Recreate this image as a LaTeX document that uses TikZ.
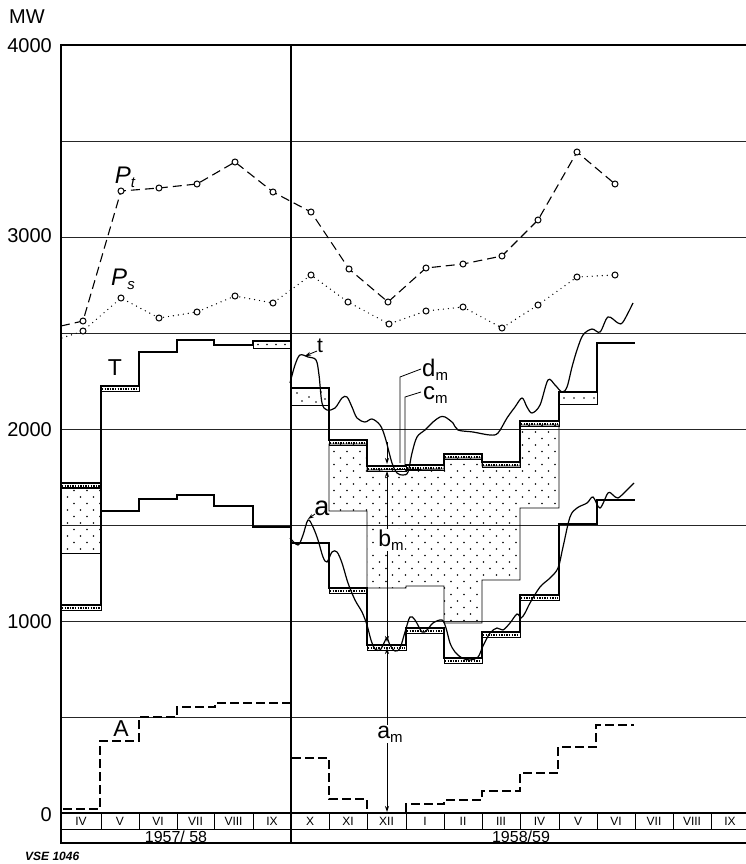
\documentclass[tikz,border=0pt]{standalone}
\usepackage{fontspec}
\setmainfont{Liberation Sans}
\usetikzlibrary{patterns,arrows.meta}
\pgfdeclarepatternformonly{sparsedots}{\pgfpoint{-1pt}{-1pt}}{\pgfpoint{14pt}{14pt}}{\pgfpoint{13pt}{13pt}}{%
  \pgfpathcircle{\pgfpoint{2.5pt}{3pt}}{0.9pt}%
  \pgfpathcircle{\pgfpoint{9pt}{9.5pt}}{0.9pt}%
  \pgfusepath{fill}}
\newcommand\lowsub[1]{\raisebox{-0.18em}{\fontsize{15}{15}\selectfont #1}}
\newcommand\fs[1]{\fontsize{#1}{#1}\selectfont}
\newcommand\stripb[3]{%
  \draw[thinbox] (#1,#3) rectangle (#2,#3+5);
  \draw[line width=2pt, dash pattern=on 1.3pt off 1.3pt] (#1+1,#3+2.6)--(#2-1,#3+2.6);}
\newcommand\dotrow[3]{%
  \foreach \xx in {#1} \fill (\xx,#2) circle (#3);}
\begin{document}
\begin{tikzpicture}[x={(1pt,0pt)}, y={(0pt,-1pt)},
  gridline/.style={line width=0.8pt, black!85},
  framel/.style={line width=1.8pt},
  stepline/.style={line width=2.4pt},
  thinbox/.style={line width=0.9pt},
  wig/.style={line width=1.2pt},
  ptline/.style={line width=1.1pt, dash pattern=on 9pt off 5pt},
  psline/.style={line width=1.4pt, line cap=round, dash pattern=on 0pt off 5pt},
  circ/.style={circle, draw, fill=white, line width=1pt, inner sep=0pt, minimum size=6pt},
  adash/.style={line width=2pt, dash pattern=on 9pt off 4pt},
  tick/.style={font=\fs{20}, anchor=east, inner sep=0pt},
  month/.style={font=\fs{12}, inner sep=0pt},
  lab/.style={font=\fs{23}, inner sep=1pt},
  arr/.style={line width=0.8pt, -{Stealth[length=6pt,width=4pt]}},
  darr/.style={line width=0.8pt, {Stealth[length=6pt,width=4pt]}-{Stealth[length=6pt,width=4pt]}}
]
\useasboundingbox (0,0) rectangle (746,864);

% grid
\foreach \g in {141,237,333,429,525,621,717}
  \draw[gridline] (61,\g) -- (752,\g);

% frame
\draw[framel] (61,45) -- (752,45);
\draw[framel] (61,44) -- (61,844);
\draw[line width=1.2pt] (291,45) -- (291,843);
\draw[line width=2.4pt] (61,813) -- (752,813);
\draw[line width=1pt] (61,829) -- (752,829);
\draw[framel] (61,843) -- (752,843);

% months
\foreach \a/\b/\t in {61/101/IV,101/139/V,139/177/VI,177/214/VII,214/253/VIII,253/291/IX,
  291/329/X,329/367/XI,367/406/XII,406/444/I,444/482/II,482/520/III,520/559/IV,559/597/V,
  597/635/VI,635/673/VII,673/711/VIII,711/749/IX}{
  \node[month] (m\a) at ({(\a+\b)/2},821.5) {\t};
  \draw[line width=1pt] (\b,813) -- (\b,829);
}
\node[font=\fs{16}, inner sep=0pt] (y1) at (176,836.5) {1957/ 58};
\node[font=\fs{16}, inner sep=0pt] (y2) at (521,836.5) {1958/59};

% axis numbers
\node[font=\fs{20}, inner sep=0pt] (mw) at (27,17) {MW};
\node[tick] (t4) at (52,46) {4000};
\node[tick] (t3) at (52,236) {3000};
\node[tick] (t2) at (52,430) {2000};
\node[tick] (t1) at (52,622) {1000};
\node[tick] (t0) at (52,815) {0};
\node[font=\fs{12}\bfseries\itshape, anchor=west, inner sep=0pt] (vse) at (25,856) {VSE 1046};

% big dotted region
\draw[thinbox, pattern=sparsedots] (329,444) -- (329,511) -- (367,511) -- (367,588) -- (406,588)
  -- (406,586) -- (444,586) -- (444,623) -- (482,623) -- (482,580) -- (520,580) -- (520,508)
  -- (559,508) -- (559,425) -- (520,425) -- (520,466) -- (482,466) -- (482,458) -- (444,458)
  -- (444,469) -- (367,470) -- (367,444) -- cycle;

% left dotted box (IV 1957)
\draw[thinbox, pattern=sparsedots] (61,487) rectangle (101,553);
% small dotted boxes
\draw[thinbox] (253,341) rectangle (291,348);
\dotrow{258,267,276,285}{344.5}{0.8pt}
\draw[thinbox] (291,388) rectangle (329,405);
\foreach \p in {(297,393),(309,397),(321,392),(302,401),(316,402),(325,399)} \fill \p circle (0.8pt);
\draw[thinbox] (559,392) rectangle (597,404);
\dotrow{564,574,584,594}{398}{0.8pt}

% strips
\stripb{61}{101}{483}
\stripb{101}{139}{386}
\stripb{61}{101}{605}
\stripb{329}{367}{440}
\stripb{367}{406}{466}
\stripb{406}{444}{465}
\stripb{444}{482}{454}
\stripb{482}{520}{462}
\stripb{520}{559}{421}
\stripb{329}{367}{588}
\stripb{367}{406}{645}
\stripb{406}{444}{628}
\stripb{444}{482}{658}
\stripb{482}{520}{632}
\stripb{520}{559}{595}

% T steps
\draw[stepline] (61,483) -- (101,483);
\draw[stepline] (101,605) -- (101,386) -- (139,386) -- (139,352) -- (177,352) -- (177,340)
  -- (214,340) -- (214,345) -- (253,345) -- (253,341) -- (291,341);
\draw[stepline] (61,605) -- (101,605);
\draw[stepline] (291,388) -- (329,388) -- (329,440) -- (367,440) -- (367,466) -- (406,466)
  -- (406,465) -- (444,465) -- (444,454) -- (482,454) -- (482,462) -- (520,462) -- (520,421)
  -- (559,421) -- (559,392) -- (597,392) -- (597,343) -- (635,343);
% lower steps
\draw[stepline] (101,511) -- (139,511) -- (139,499) -- (177,499) -- (177,495) -- (214,495)
  -- (214,506) -- (253,506) -- (253,527) -- (291,527) -- (291,543) -- (329,543) -- (329,588)
  -- (367,588) -- (367,645) -- (406,645) -- (406,628) -- (444,628) -- (444,658) -- (482,658)
  -- (482,632) -- (520,632) -- (520,595) -- (559,595) -- (559,524) -- (597,524) -- (597,500)
  -- (635,500);

% A dashed steps
\draw[adash] (63,809) -- (100,809) -- (100,741) -- (139,741) -- (139,717) -- (177,717)
  -- (177,707) -- (215,707) -- (215,703) -- (291,703) -- (291,758) -- (329,758) -- (329,799)
  -- (367,799) -- (367,812);
\draw[adash] (406,812) -- (406,804) -- (444,804) -- (444,800) -- (482,800) -- (482,791)
  -- (520,791) -- (520,773) -- (558,773) -- (558,747) -- (596,747) -- (596,725) -- (634,725);

% t curve
\draw[wig] plot[smooth, tension=0.55] coordinates {(290,383) (295,365) (300,355) (308,357)
  (316,360) (319,375) (322,403) (327,410) (335,408) (342,398) (347,397) (352,407) (357,418)
  (365,422) (372,419) (380,425) (385,437) (392,463) (397,473) (403,475) (408,472) (412,453)
  (417,437) (425,430) (433,422) (440,417) (445,417) (453,423) (458,430) (473,432) (490,435)
  (498,433) (507,418) (515,407) (522,398) (527,407) (532,413) (540,405) (548,380) (555,385)
  (562,392) (567,387) (572,367) (577,350) (583,335) (592,329) (600,332) (608,317) (618,323)
  (623,322) (633,303)};
% a curve
\draw[wig] plot[smooth, tension=0.55] coordinates {(290,538) (298,545) (303,535) (308,520)
  (313,527) (318,540) (323,557) (327,562) (332,552) (337,552) (342,563) (348,583) (355,600)
  (362,612) (367,625) (371,640) (375,649) (380,650) (384,643) (387,638) (390,645) (395,651)
  (400,648) (405,632) (410,617) (415,620) (422,632) (427,630) (433,623) (442,620) (446,628)
  (450,643) (455,652) (462,658) (470,660) (478,657) (483,646) (490,633) (497,628) (503,630)
  (510,623) (517,614) (521,618) (525,613) (530,603) (540,587) (550,578) (558,568) (563,547)
  (570,517) (577,508) (587,503) (593,497) (600,508) (608,493) (613,495) (618,498) (627,490)
  (634,483)};

% P_t
\draw[ptline] (61,326) -- (83,321) -- (121,191) -- (159,188) -- (197,184) -- (235,162)
  -- (273,192) -- (311,212) -- (349,269) -- (388,302) -- (426,268) -- (463,264) -- (502,256)
  -- (538,220) -- (577,152) -- (615,184);
\foreach \p in {(83,321),(121,191),(159,188),(197,184),(235,162),(273,192),(311,212),(349,269),
  (388,302),(426,268),(463,264),(502,256),(538,220),(577,152),(615,184)}
  \node[circ] at \p {};
% P_s
\draw[psline] (62,338) -- (83,331) -- (121,298) -- (159,318) -- (197,312) -- (235,296)
  -- (273,303) -- (311,275) -- (348,302) -- (389,324) -- (426,311) -- (463,307) -- (502,328)
  -- (538,305) -- (577,277) -- (615,275);
\foreach \p in {(83,331),(121,298),(159,318),(197,312),(235,296),(273,303),(311,275),(348,302),
  (389,324),(426,311),(463,307),(502,328),(538,305),(577,277),(615,275)}
  \node[circ] at \p {};

% labels
\node[font=\fs{24}\itshape, inner sep=0pt] (lpt) at (125,177) {P\lowsub{t}};
\node[font=\fs{24}\itshape, inner sep=0pt] (lps) at (123,279) {P\lowsub{s}};
\node[lab] (lT) at (115,368) {T};
\node[lab] (lA) at (121,729) {A};
\node[font=\fs{21}, inner sep=0pt] (lt) at (320,346) {t};
\draw[arr] (317,351) -- (305,356);
\node[font=\fs{27}, inner sep=0pt] (la) at (322,508) {a};
\draw[arr] (315,514) -- (308,519);

\node[font=\fs{24}, anchor=west, inner sep=0pt] (ldm) at (422,370) {d\lowsub{m}};
\node[font=\fs{24}, anchor=west, inner sep=0pt] (lcm) at (423,395) {c\lowsub{m}};
\draw[line width=0.8pt] (421,369) -- (400,377) -- (400,463);
\draw[line width=0.8pt] (421,392) -- (405,397) -- (405,465);

\draw[arr] (387,442) -- (387,464);
\draw[darr] (387,471) -- (387,642);
\draw[darr] (387,648) -- (387,812);
\node[font=\fs{23}, fill=white, inner sep=1pt] (lbm) at (391,540) {b\lowsub{m}};
\node[font=\fs{23}, fill=white, inner sep=1pt] (lam) at (390,734) {a\lowsub{m}};
\end{tikzpicture}
\end{document}
